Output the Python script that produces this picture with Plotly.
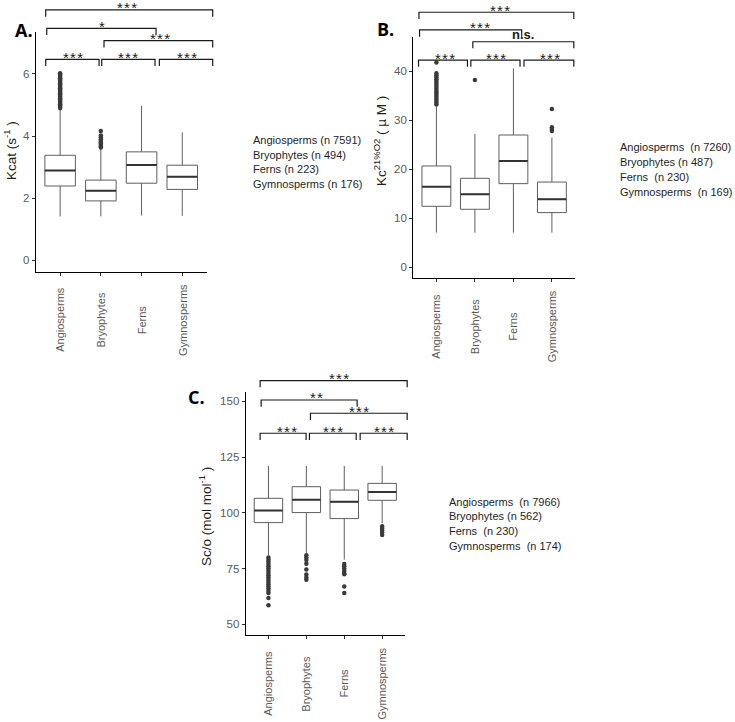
import plotly.graph_objects as go

W, H = 735, 722

categories = ["Angiosperms", "Bryophytes", "Ferns", "Gymnosperms"]
positions = [1, 2, 3, 4]

# ---------------- Panel A: Kcat ----------------
kcat_q1 = [2.39, 1.91, 2.48, 2.28]
kcat_median = [2.89, 2.24, 3.07, 2.69]
kcat_q3 = [3.38, 2.58, 3.49, 3.06]
kcat_lower = [1.41, 1.41, 1.44, 1.43]
kcat_upper = [4.86, 3.60, 4.97, 4.12]
kcat_out_angio = [4.90, 4.94, 4.98, 5.02, 5.06, 5.10, 5.14, 5.18, 5.22, 5.26, 5.30, 5.34,
                  5.38, 5.42, 5.46, 5.50, 5.54, 5.58, 5.62, 5.66, 5.70, 5.74, 5.78, 5.82,
                  5.86, 5.90, 5.94, 5.98, 6.02]
kcat_out_bryo = [3.63, 3.67, 3.71, 3.75, 3.79, 3.84, 3.90, 3.96, 4.02, 4.16]
kcat_out_ferns = []
kcat_out_gymno = []
kcat_legend = ["Angiosperms (n 7591)", "Bryophytes (n 494)", "Ferns (n 223)", "Gymnosperms (n 176)"]
kcat_sig_x0 = [0.646, 0.671, 2.078, 0.646, 2.022, 3.437]
kcat_sig_x1 = [4.748, 3.356, 4.748, 1.956, 3.331, 4.748]
kcat_sig_y = [8.06, 7.47, 7.07, 6.47, 6.47, 6.47]
kcat_sig_label_x = [2.636, 2.022, 3.454, 1.324, 2.675, 4.110]
kcat_sig_labels = ["***", "*", "***", "***", "***", "***"]

# ---------------- Panel B: Kc 21% O2 ----------------
kc_q1 = [12.45, 11.84, 17.07, 11.16]
kc_median = [16.46, 14.90, 21.70, 13.90]
kc_q3 = [20.68, 18.16, 27.00, 17.40]
kc_lower = [7.07, 7.07, 7.07, 7.07]
kc_upper = [32.8, 27.2, 40.6, 26.5]
kc_out_angio = [33.2, 33.6, 34.0, 34.4, 34.8, 35.2, 35.6, 36.0, 36.4, 36.8, 37.2, 37.6,
                38.0, 38.4, 38.8, 39.2, 39.6, 41.8]
kc_out_bryo = [38.2]
kc_out_ferns = []
kc_out_gymno = [27.8, 28.2, 28.6, 32.3]
kc_legend = ["Angiosperms\u00a0 (n 7260)", "Bryophytes (n 487)", "Ferns\u00a0 (n 230)", "Gymnosperms\u00a0 (n 169)"]
kc_sig_x0 = [0.547, 0.562, 1.946, 0.536, 1.894, 3.275]
kc_sig_x1 = [4.570, 3.215, 4.570, 1.806, 3.171, 4.570]
kc_sig_y = [52.04, 48.43, 46.04, 42.29, 42.29, 42.29]
kc_sig_label_x = [2.661, 2.135, 3.256, 1.228, 2.549, 3.948]
kc_sig_labels = ["***", "***", "n.s.", "***", "***", "***"]

# ---------------- Panel C: Sc/o ----------------
sco_q1 = [95.6, 100.1, 97.4, 105.6]
sco_median = [101.0, 105.9, 104.9, 109.3]
sco_q3 = [106.5, 111.7, 110.2, 113.2]
sco_lower = [81.0, 82.0, 79.0, 95.3]
sco_upper = [121.0, 121.0, 121.0, 121.0]
sco_out_angio = [80.0, 79.0, 78.0, 77.0, 76.0, 75.0, 74.0, 73.0, 72.0, 71.0, 70.0, 69.0,
                 68.0, 67.0, 66.0, 65.0, 64.0, 61.8, 58.5]
sco_out_bryo = [81.0, 80.0, 78.8, 77.1, 74.6, 72.3, 71.0, 70.0]
sco_out_ferns = [77.0, 76.0, 75.0, 74.0, 73.0, 72.5, 67.0, 64.0]
sco_out_gymno = [94.0, 93.0, 92.0, 91.0, 90.0]
sco_legend = ["Angiosperms\u00a0 (n 7966)", "Bryophytes (n 562)", "Ferns\u00a0 (n 230)", "Gymnosperms\u00a0 (n 174)"]
sco_sig_x0 = [0.781, 0.807, 2.108, 0.781, 2.082, 3.420]
sco_sig_x1 = [4.660, 3.340, 4.660, 1.995, 3.314, 4.660]
sco_sig_y = [159.24, 150.58, 144.62, 135.65, 135.65, 135.65]
sco_sig_label_x = [2.873, 2.259, 3.401, 1.493, 2.699, 4.061]
sco_sig_labels = ["***", "**", "***", "***", "***", "***"]

panels = [
    dict(letter="A.", ax="", box=(35.7, 31.7, 206.7, 271.7), yrange=[-0.37, 7.36],
         yticks=[0, 2, 4, 6],
         title="Kcat (s<sup>-1</sup> )", title_xy=(10, 151),
         q1=kcat_q1, med=kcat_median, q3=kcat_q3, lo=kcat_lower, hi=kcat_upper,
         outs=[kcat_out_angio, kcat_out_bryo, kcat_out_ferns, kcat_out_gymno],
         legend=kcat_legend, legend_xy=(250.7, 140.0), legend_dy=14.5,
         letter_xy=(24, 30),
         sx0=kcat_sig_x0, sx1=kcat_sig_x1, sy=kcat_sig_y, slx=kcat_sig_label_x, sl=kcat_sig_labels),
    dict(letter="B.", ax="2", box=(413.3, 36.7, 575.0, 278.3), yrange=[-2.245, 47.06],
         yticks=[0, 10, 20, 30, 40],
         title="Kc<sup>21%O2</sup> ( \u00b5 M )", title_xy=(380, 141),
         q1=kc_q1, med=kc_median, q3=kc_q3, lo=kc_lower, hi=kc_upper,
         outs=[kc_out_angio, kc_out_bryo, kc_out_ferns, kc_out_gymno],
         legend=kc_legend, legend_xy=(618.3, 146.7), legend_dy=15.0,
         letter_xy=(385.5, 28.5),
         sx0=kc_sig_x0, sx1=kc_sig_x1, sy=kc_sig_y, slx=kc_sig_label_x, sl=kc_sig_labels),
    dict(letter="C.", ax="3", box=(245.7, 391.7, 404.9, 635.3), yrange=[45.07, 154.3],
         yticks=[50, 75, 100, 125, 150],
         title="Sc/o (mol mol<sup>-1</sup> )", title_xy=(205, 516),
         q1=sco_q1, med=sco_median, q3=sco_q3, lo=sco_lower, hi=sco_upper,
         outs=[sco_out_angio, sco_out_bryo, sco_out_ferns, sco_out_gymno],
         legend=sco_legend, legend_xy=(447.3, 501.5), legend_dy=14.9,
         letter_xy=(196, 396.5),
         sx0=sco_sig_x0, sx1=sco_sig_x1, sy=sco_sig_y, slx=sco_sig_label_x, sl=sco_sig_labels),
]

XR = [0.4, 4.6]
BOX_W = 0.75
FONT = "Liberation Sans, Arial, sans-serif"
TICK_GREY = "#5a5a5a"
HS = "\u200a"

fig = go.Figure()
annotations = []
shapes = []


def px_x(p, v):
    l, t, r, b = p["box"]
    return l + (v - XR[0]) / (XR[1] - XR[0]) * (r - l)


def px_y(p, v):
    l, t, r, b = p["box"]
    y0, y1 = p["yrange"]
    return b - (v - y0) / (y1 - y0) * (b - t)


def paper(px, py):
    return px / W, 1 - py / H


layout_axes = {}
for p in panels:
    ax = p["ax"]
    xa, ya = "x" + ax, "y" + ax
    l, t, r, b = p["box"]

    fig.add_trace(go.Box(
        x=positions, q1=p["q1"], median=p["med"], q3=p["q3"],
        lowerfence=p["lo"], upperfence=p["hi"],
        width=BOX_W, whiskerwidth=0, fillcolor="white",
        line=dict(color="#5e5e5e", width=1), boxpoints=False,
        xaxis=xa, yaxis=ya, showlegend=False, hoverinfo="skip"))

    mx, my = [], []
    for pos, m in zip(positions, p["med"]):
        mx += [pos - BOX_W / 2, pos + BOX_W / 2, None]
        my += [m, m, None]
    fig.add_trace(go.Scatter(x=mx, y=my, mode="lines", line=dict(color="#333333", width=2),
                             xaxis=xa, yaxis=ya, showlegend=False, hoverinfo="skip"))

    ox, oy = [], []
    for pos, vals in zip(positions, p["outs"]):
        ox += [pos] * len(vals)
        oy += vals
    if ox:
        fig.add_trace(go.Scatter(x=ox, y=oy, mode="markers",
                                 marker=dict(size=4.5, color="#3a3a3a"),
                                 xaxis=xa, yaxis=ya, showlegend=False, hoverinfo="skip"))

    xd = [l / W, r / W]
    yd = [1 - b / H, 1 - t / H]
    layout_axes["xaxis" + ax] = dict(domain=xd, range=XR, anchor=ya, tickvals=positions,
                                     showticklabels=False, ticks="outside", ticklen=3,
                                     tickcolor="#333333", showline=True, linecolor="black",
                                     linewidth=1.1, showgrid=False, zeroline=False)
    layout_axes["yaxis" + ax] = dict(domain=yd, range=p["yrange"], anchor=xa,
                                     tickvals=p["yticks"], ticks="outside", ticklen=3,
                                     tickcolor="#333333", showline=True, linecolor="black",
                                     linewidth=1.1, showgrid=False, zeroline=False,
                                     tickfont=dict(family=FONT, size=11.5, color=TICK_GREY))

    # category labels (centred, rotated)
    for pos, cat in zip(positions, categories):
        xx, yy = paper(px_x(p, pos), b + 48)
        annotations.append(dict(x=xx, y=yy, xref="paper", yref="paper", text=cat,
                                textangle=-90, showarrow=False, xanchor="center",
                                yanchor="middle",
                                font=dict(family=FONT, size=11, color=TICK_GREY)))

    # y title
    xx, yy = paper(*p["title_xy"])
    annotations.append(dict(x=xx, y=yy, xref="paper", yref="paper", text=p["title"],
                            textangle=-90, showarrow=False, xanchor="center", yanchor="middle",
                            font=dict(family=FONT, size=13.5, color="#1e1e1e")))

    # panel letter
    xx, yy = paper(*p["letter_xy"])
    annotations.append(dict(x=xx, y=yy, xref="paper", yref="paper", text="<b>" + p["letter"] + "</b>",
                            showarrow=False, xanchor="center", yanchor="middle",
                            font=dict(family="Open Sans, sans-serif", size=18, color="black")))

    # legend text
    lx, ly = p["legend_xy"]
    for i, txt in enumerate(p["legend"]):
        xx, yy = paper(lx, ly + i * p["legend_dy"])
        annotations.append(dict(x=xx, y=yy, xref="paper", yref="paper", text=txt,
                                showarrow=False, xanchor="left", yanchor="middle",
                                font=dict(family=FONT, size=11, color="#1e1e1e")))

    # significance brackets
    drop = 6.7
    for x0, x1, yv, lxv, lab in zip(p["sx0"], p["sx1"], p["sy"], p["slx"], p["sl"]):
        X0, X1, Y = px_x(p, x0), px_x(p, x1), px_y(p, yv)
        path = "M {:.4f},{:.4f} L {:.4f},{:.4f} L {:.4f},{:.4f} L {:.4f},{:.4f}".format(
            X0 / W, 1 - (Y + drop) / H, X0 / W, 1 - Y / H, X1 / W, 1 - Y / H, X1 / W, 1 - (Y + drop) / H)
        shapes.append(dict(type="path", path=path, xref="paper", yref="paper",
                           line=dict(color="#1a1a1a", width=1.2)))
        xx, yy = paper(px_x(p, lxv), Y)
        if lab == "n.s.":
            annotations.append(dict(x=xx, y=yy, xref="paper", yref="paper", text="<b>n.s.</b>",
                                    showarrow=False, xanchor="center", yanchor="middle", yshift=7,
                                    font=dict(family=FONT, size=13, color="#1a1a1a")))
        else:
            annotations.append(dict(x=xx, y=yy, xref="paper", yref="paper", text=HS.join(lab),
                                    showarrow=False, xanchor="center", yanchor="middle", yshift=2,
                                    font=dict(family=FONT, size=15, color="#1a1a1a")))

fig.update_layout(width=W, height=H, margin=dict(l=0, r=0, t=0, b=0),
                  paper_bgcolor="white", plot_bgcolor="white", showlegend=False,
                  hovermode=False,
                  annotations=annotations, shapes=shapes, **layout_axes)

fig.write_html("out.html", config={"displayModeBar": False, "staticPlot": True},
               post_script="document.body.style.margin='0';document.body.style.padding='0';")
